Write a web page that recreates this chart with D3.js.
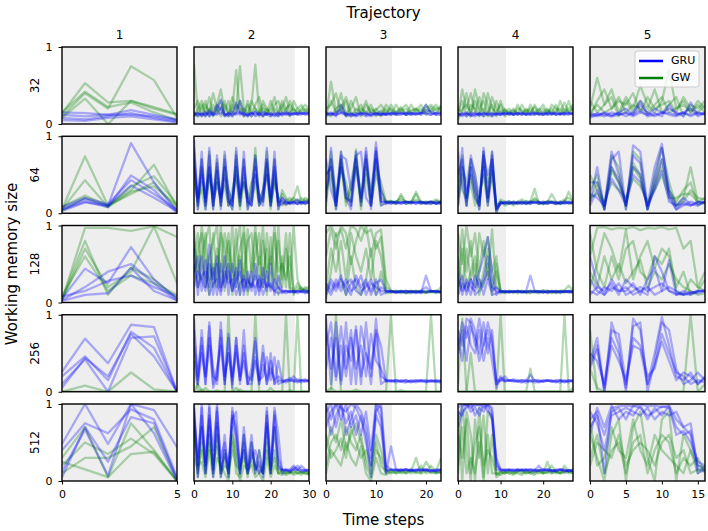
<!DOCTYPE html>
<html><head><meta charset="utf-8">
<script src="https://cdn.jsdelivr.net/npm/d3@7"></script>
<style>body{margin:0;background:#fff;} text{font-family:"DejaVu Sans",sans-serif;}</style>
</head><body><svg id="c" width="708" height="531"></svg>
<script>
const memorySizes = ["32","64","128","256","512"];
const trajectories = ["1","2","3","4","5"];
const xMax = [5,30,23,27,16];
const shadeEnd = [5,26.3,13.2,11.3,16];
const xTicks = [[0,5],[0,10,20,30],[0,10,20],[0,10,20],[0,5,10,15]];
const yTicks = [0,1];
const seriesNames = ["GRU","GW"];

// values in percent of working memory usage, one array per run
const GW_32 = [
 [[10,40,20,75,57,8],[14,53,28,30,20,12],[8,33,0,30,22,13],[15,42,22,28,15,5]],
 [[78,15,25,10,20,12,18,30,10,15,20,70,15,20,10,25,77,15,20,12,30,15,10,20,35,15,20,12,18,20,15],
  [20,30,10,25,15,40,20,10,25,15,35,20,75,20,15,30,20,10,25,15,20,35,15,30,20,10,30,20,15,18,20],
  [10,20,30,15,35,10,25,45,15,30,10,25,20,10,30,15,25,35,10,20,15,25,30,15,20,25,15,20,25,15,18],
  [15,10,20,30,10,25,15,20,30,10,25,15,30,15,25,10,20,15,30,20,10,20,15,25,15,30,20,15,20,25,20]],
 [[10,55,15,40,12,20,35,10,25,15,20,12,25,18,15,22,12,25,15,20,12,18,25,15],
  [20,25,40,15,30,10,20,15,30,12,18,25,15,20,12,18,25,15,20,12,25,15,20,22],
  [15,10,20,25,10,30,15,25,12,20,15,10,20,12,25,15,20,12,18,25,15,22,12,25],
  [12,30,15,20,35,15,12,20,15,25,10,18,12,25,15,20,12,18,20,15,20,25,18,20]],
 [[10,45,20,40,15,35,10,40,20,15,25,10,15,20,12,25,15,20,12,18,25,15,20,12,30,15,20,25],
  [20,15,40,10,45,20,30,15,25,10,30,15,20,12,25,15,18,12,25,15,20,12,25,20,15,28,15,20],
  [15,30,10,25,20,10,40,25,10,30,15,20,12,18,15,12,20,15,22,12,15,20,12,18,20,12,30,15],
  [5,20,25,15,30,15,20,10,35,20,12,18,15,12,20,18,12,25,15,20,12,18,15,25,12,20,15,22]],
 [[20,60,25,45,15,35,20,50,25,15,30,70,20,25,15,30,20],
  [10,30,45,20,30,25,40,15,35,20,25,30,15,35,20,15,25],
  [30,15,25,35,10,30,15,30,20,45,15,25,35,10,25,20,30],
  [15,25,15,20,35,15,25,20,15,25,35,15,20,30,15,25,15]]
];
const GRU_32 = [
 [[8,6,10,14,8,3],[12,10,12,12,10,5],[15,14,12,18,12,6],[5,4,8,10,6,2]],
 [[15,12,14,10,18,12,20,32,12,14,10,15,30,12,14,10,16,12,14,12,10,15,12,14,12,15,13,14,12,15,14],
  [12,15,10,14,12,16,25,18,12,10,14,28,12,15,10,14,12,15,10,14,12,10,14,12,16,12,14,13,15,12,13],
  [10,14,12,16,10,14,12,15,10,14,12,14,16,10,12,15,10,13,16,12,14,12,10,15,13,11,14,12,13,14,12],
  [14,10,13,12,15,11,14,22,13,12,16,12,14,13,11,14,15,12,11,14,13,12,15,11,14,13,12,15,14,13,15]],
 [[12,14,10,25,12,14,10,12,15,10,13,12,14,12,13,15,12,14,13,15,25,14,12,13],
  [14,12,15,18,10,12,14,13,10,12,14,15,12,14,13,12,14,15,12,14,13,12,15,14],
  [10,13,12,15,14,10,12,14,12,15,12,13,12,13,15,14,12,13,14,12,18,16,13,12],
  [13,15,12,14,12,13,11,15,13,12,14,12,13,15,12,13,15,12,13,14,15,12,14,15]],
 [[12,14,10,15,12,14,10,13,12,14,12,15,13,12,14,13,12,15,14,12,13,14,12,15,13,12,14,13],
  [14,10,13,12,15,11,14,12,10,13,15,12,14,13,12,14,13,12,13,14,12,13,15,12,14,13,12,15],
  [10,13,15,12,10,14,12,15,13,12,13,14,12,15,13,12,14,13,12,14,15,12,13,14,12,15,13,14],
  [13,12,14,10,13,12,15,12,14,13,12,13,15,12,14,15,12,13,15,13,12,15,14,12,13,14,15,12]],
 [[12,10,15,12,14,10,15,30,12,14,10,25,12,15,20,10,14],
  [10,14,12,10,15,20,12,25,15,10,14,20,15,10,28,12,15],
  [14,12,10,15,12,14,10,15,12,20,15,12,10,14,12,15,12],
  [8,12,14,10,12,15,12,18,10,12,15,14,12,15,10,14,13]]
];
const GW_64 = [
 [[5,74,10,30,63,8],[5,43,8,35,48,12],[8,23,10,25,40,5],[3,20,8,28,35,10]],
 [[60,10,70,15,80,5,60,10,75,20,5,80,10,70,5,30,85,10,20,80,15,70,5,30,20,15,20,35,15,20,18],
  [40,15,55,10,60,20,70,10,50,30,15,70,20,45,15,10,75,20,15,60,10,55,15,25,15,20,15,12,20,15,18],
  [80,5,40,20,50,10,45,25,60,10,30,55,5,50,20,40,50,15,30,70,10,40,20,15,10,15,20,15,12,18,15],
  [50,20,30,5,55,15,40,20,35,10,20,45,10,40,25,15,40,10,20,50,5,45,15,10,18,12,15,18,15,12,15]],
 [[20,70,10,80,20,15,83,10,70,15,80,20,15,15,12,25,14,15,25,12,15,14,18,15],
  [50,60,5,60,40,10,70,20,50,10,60,40,15,14,15,18,15,12,28,15,13,15,12,16],
  [10,80,20,70,10,40,75,5,60,30,70,10,15,16,14,22,12,15,18,14,15,12,16,14],
  [30,50,10,65,15,30,60,15,75,10,50,30,15,13,15,14,15,14,15,14,13,15,14,13]],
 [[40,75,10,60,20,10,80,15,70,0,18,15,12,15,14,15,12,15,32,12,15,14,25,15,12,14,28,15],
  [20,60,40,70,50,5,75,40,60,10,15,12,15,10,15,18,15,12,20,15,12,15,14,12,15,18,20,15],
  [60,30,20,50,30,15,60,20,50,5,12,14,16,12,14,12,16,15,18,14,12,16,15,14,12,16,15,12],
  [10,50,15,40,10,20,50,10,80,5,15,10,12,15,12,14,12,14,15,12,14,12,15,14,13,15,12,14]],
 [[30,50,5,75,60,5,80,70,5,50,85,40,10,20,60,15,20],
  [15,40,10,60,45,10,65,50,5,40,70,30,15,30,40,10,15],
  [50,30,5,55,40,10,60,45,10,35,60,25,10,15,30,20,18],
  [20,25,15,40,30,20,45,35,15,30,50,20,20,25,25,15,12]]
];
const GRU_64 = [
 [[5,18,10,91,40,2],[5,15,8,49,30,0],[8,20,12,43,25,5],[3,14,10,36,20,3]],
 [[95,5,80,10,85,5,75,10,80,20,5,85,10,80,5,20,75,10,25,85,10,80,5,20,15,12,15,18,12,15,16],
  [70,10,60,15,75,10,65,5,70,30,10,75,20,70,10,30,70,15,10,65,15,70,10,20,12,15,14,12,15,13,15],
  [85,15,50,20,60,10,40,15,60,10,20,50,15,60,20,10,50,25,15,70,10,50,15,15,12,14,12,15,14,12,14],
  [60,20,70,5,50,25,55,20,45,15,10,60,25,40,15,10,60,15,30,50,20,60,10,12,15,13,15,12,14,15,13]],
 [[15,85,10,80,20,15,80,10,85,20,92,15,15,14,12,14,15,13,14,15,12,14,13,14],
  [70,30,10,75,70,30,75,80,20,10,80,30,12,15,13,15,12,14,15,12,14,15,12,15],
  [30,70,15,60,30,10,70,20,80,5,85,15,14,12,15,13,14,15,12,14,13,12,15,14],
  [50,60,5,70,20,5,60,15,70,10,70,10,13,15,14,12,15,14,13,15,14,15,13,12]],
 [[20,85,10,70,30,5,85,20,80,0,15,12,14,12,15,14,13,15,14,12,14,15,13,12,14,15,13,14],
  [50,70,20,60,40,10,75,50,70,5,12,15,13,14,12,15,14,12,15,14,13,14,15,12,14,12,15,13],
  [80,40,10,75,50,20,60,15,75,10,14,13,15,13,14,12,15,13,14,15,12,13,14,15,12,14,13,15],
  [10,60,30,50,20,10,80,10,55,5,13,14,12,15,13,14,12,15,13,14,15,12,14,13,15,13,14,12]],
 [[15,60,5,70,80,5,88,80,10,60,90,20,5,15,10,15,14],
  [40,40,10,80,50,10,75,65,5,45,85,30,10,20,12,10,15],
  [10,30,5,60,40,15,60,50,5,35,70,25,5,10,15,12,14],
  [25,20,10,45,30,10,50,40,10,30,55,15,10,12,10,14,15]]
];
const GW_128 = [
 [[3,97,97,93,99,85],[5,80,10,45,30,5],[3,70,20,40,99,25],[8,60,15,35,25,10]],
 [[95,20,100,60,10,90,30,100,15,80,40,95,10,100,30,20,90,50,100,10,85,30,100,20,70,15,100,30,15,20,15],
  [60,90,30,80,100,20,70,40,90,60,10,70,100,20,80,90,30,60,20,90,50,100,10,60,20,90,10,20,15,18,20],
  [30,70,90,20,60,80,100,20,50,90,30,40,70,90,10,50,100,20,80,40,60,20,80,30,90,20,15,25,18,15,12],
  [80,40,60,90,30,50,20,90,70,30,100,20,60,30,95,40,60,90,30,70,20,90,40,50,30,60,12,15,20,14,16]],
 [[90,100,85,95,70,100,95,80,100,60,90,95,30,15,14,15,12,15,14,15,13,15,14,20],
  [60,95,70,100,90,50,80,100,90,95,70,85,20,15,13,14,15,13,15,14,15,14,12,15],
  [20,70,40,80,30,90,60,40,70,30,80,60,15,14,15,12,14,15,13,14,12,15,14,13],
  [5,40,90,30,10,60,20,10,30,70,10,40,12,13,14,15,13,12,15,13,14,13,15,14]],
 [[90,50,100,60,90,40,80,30,95,20,15,14,15,13,15,14,12,15,14,15,13,15,14,12,15,16,22,15],
  [30,95,40,80,20,90,60,85,40,60,15,13,14,15,12,14,15,13,15,14,16,15,13,14,15,13,14,12],
  [60,20,70,30,50,10,40,70,20,50,12,15,13,14,15,13,14,15,13,12,14,13,15,14,12,15,14,15],
  [10,70,20,40,60,30,20,50,10,40,14,12,15,13,14,15,13,12,14,15,13,14,12,15,14,13,15,13]],
 [[60,97,98,95,97,96,98,94,97,96,98,95,97,70,80,20,40],
  [20,50,90,70,40,95,30,60,80,45,70,60,20,40,10,15,30],
  [90,40,20,60,30,70,80,40,30,60,50,70,15,10,30,20,15],
  [40,20,60,30,50,25,40,55,20,40,30,50,30,20,15,10,12]]
];
const GRU_128 = [
 [[5,44,25,72,30,5],[3,20,40,50,25,2],[8,15,28,35,20,8],[2,10,12,45,15,3]],
 [[70,10,60,20,75,10,50,15,60,10,50,20,55,10,40,15,50,10,45,15,50,10,35,15,15,14,15,12,15,16,14],
  [40,60,15,55,20,45,10,50,20,40,15,45,10,35,20,40,10,35,20,40,15,30,20,12,15,14,13,15,14,13,15],
  [20,40,30,15,50,30,60,20,30,50,15,30,40,15,30,20,35,15,30,20,25,15,20,15,12,15,14,15,13,15,14],
  [50,20,35,40,10,25,30,10,40,25,30,10,25,30,15,25,20,30,10,25,20,15,12,14,15,13,15,14,15,12,13]],
 [[15,30,20,35,10,25,30,15,20,30,10,20,15,14,13,15,14,13,15,12,35,15,14,13],
  [25,15,30,20,30,15,20,35,10,25,20,15,14,15,12,14,15,14,12,15,20,14,15,14],
  [10,25,15,30,20,10,35,20,30,10,25,30,15,13,15,14,12,15,14,13,14,15,13,15],
  [20,10,25,15,25,30,15,10,25,15,30,10,13,15,14,13,15,14,13,15,13,14,15,13]],
 [[20,35,10,30,20,40,60,85,40,10,15,14,13,15,14,13,15,35,15,14,13,15,14,13,15,14,13,14],
  [30,15,25,10,35,20,30,60,20,15,13,15,14,13,15,14,13,15,14,13,15,12,14,15,13,14,15,13],
  [10,25,15,30,10,15,25,40,15,20,14,13,15,14,13,15,14,13,15,14,13,14,15,13,14,15,13,15],
  [40,10,30,20,15,30,10,30,10,12,15,14,13,14,15,13,14,15,13,14,15,13,14,15,13,14,15,14]],
 [[10,20,15,25,10,30,20,15,10,60,40,15,10,15,12,15,15],
  [30,15,10,20,15,15,25,10,30,45,15,55,10,12,10,14,16],
  [15,10,20,15,25,10,15,20,15,20,25,15,12,10,14,12,15],
  [60,25,10,30,15,20,10,15,20,10,15,20,15,10,12,15,14]]
];
const GW_256 = [
 [[0,8,0,25,3,0],[0,0,0,0,0,0]],
 [[50,0,0,5,0,0,2,0,0,100,0,0,3,0,0,0,100,0,0,0,5,0,0,0,100,0,0,0,0,0,0],
  [0,0,3,0,0,0,0,0,0,0,0,5,0,0,0,0,0,0,0,0,0,0,0,0,0,2,0,100,0,0,0],
  [0,10,0,0,0,0,0,0,0,0,0,0,0,0,0,0,0,0,0,0,0,0,0,0,0,0,0,0,0,0,0]],
 [[0,0,100,0,0,0,0,0,0,0,0,0,0,100,0,0,0,0,0,0,0,0,0,0],
  [0,0,0,0,0,0,0,0,0,0,0,0,0,0,0,0,0,0,0,0,0,100,0,0],
  [0,5,0,0,0,0,3,0,0,0,0,0,0,0,0,2,0,0,0,0,0,0,0,0]],
 [[10,95,0,0,0,0,0,0,0,0,100,0,0,0,0,0,0,30,0,0,0,0,0,0,0,100,0,0],
  [0,0,0,50,0,0,0,0,0,0,0,0,0,0,0,0,0,0,0,0,0,0,0,0,0,0,0,5],
  [0,0,0,0,0,0,0,0,0,0,0,0,0,0,0,0,0,0,0,0,0,0,0,0,0,0,0,0]],
 [[80,0,0,0,0,0,0,0,0,0,0,0,0,0,100,0,0],
  [30,5,0,0,0,0,0,0,0,0,0,0,0,0,0,0,10]]
];
const GRU_256 = [
 [[26,69,37,87,84,0],[20,46,15,78,57,0],[10,42,0,70,72,0],[5,44,20,75,46,0]],
 [[95,10,80,20,90,5,20,80,10,75,5,70,15,80,10,30,70,10,60,10,50,10,40,15,15,15,20,14,15,16,14],
  [60,20,70,10,85,20,15,90,20,50,15,70,10,60,20,15,65,15,20,45,15,45,10,12,15,18,14,12,15,14,15],
  [80,15,60,10,70,30,10,70,15,50,10,60,20,50,10,10,40,15,50,10,30,15,20,14,12,14,15,16,15,13,14],
  [40,10,50,20,60,10,30,60,10,70,20,50,15,40,10,20,45,10,35,15,40,10,15,13,14,15,13,14,12,15,13]],
 [[95,10,90,15,90,10,80,10,90,20,95,20,15,14,15,13,15,12,14,15,13,14,15,13],
  [60,90,20,85,30,80,10,85,50,30,75,10,15,13,14,15,13,14,12,15,14,13,14,15],
  [80,30,70,10,60,40,85,20,50,10,80,60,14,15,12,14,15,13,15,14,12,15,13,14],
  [30,70,15,60,20,70,30,60,20,75,40,30,13,14,15,13,12,15,14,13,15,14,13,12]],
 [[80,60,95,90,60,95,60,90,70,10,15,20,14,15,13,15,14,13,15,14,13,15,14,12,15,13,14,15],
  [60,90,70,95,80,50,90,50,80,10,20,14,15,13,14,15,14,22,15,12,14,15,13,14,15,14,12,15],
  [50,80,40,85,70,40,60,80,60,15,14,15,14,16,15,13,12,15,14,15,13,14,15,13,12,15,14,14],
  [70,40,85,60,50,80,40,70,40,5,18,13,15,14,13,12,15,14,12,13,15,14,13,15,14,12,15,13]],
 [[40,70,0,90,60,0,95,80,10,50,97,60,20,15,25,10,20],
  [30,55,5,80,75,10,85,90,0,40,90,80,30,10,15,25,15],
  [50,40,10,70,50,5,70,60,20,30,75,50,25,20,10,15,12],
  [35,60,0,60,40,15,60,55,10,35,65,40,15,25,20,10,18]]
];
const GW_512 = [
 [[30,70,5,75,40,0],[20,50,35,55,35,0],[10,30,30,45,70,2],[25,15,5,35,38,0]],
 [[80,10,70,15,60,10,75,5,30,10,70,10,5,60,10,50,10,40,10,70,10,70,20,10,12,10,15,10,12,10,8],
  [60,5,50,20,70,15,60,10,40,5,60,40,10,40,5,35,20,10,15,50,10,40,10,15,10,12,10,14,10,12,10],
  [30,15,40,10,50,20,45,10,20,15,40,20,15,30,10,25,15,20,10,40,15,30,10,12,8,10,12,10,8,12,10],
  [70,20,25,5,40,5,30,20,10,0,50,30,0,20,15,20,5,10,0,30,5,20,10,8,10,12,8,10,12,9,10]],
 [[40,70,50,80,40,60,75,50,30,10,60,40,15,10,12,15,10,12,30,10,25,15,10,12],
  [20,50,60,40,70,50,40,60,20,5,40,30,10,12,15,10,12,14,10,12,15,10,12,30],
  [60,30,40,55,30,70,50,30,40,20,50,20,12,15,10,12,10,15,12,20,10,12,10,15],
  [10,40,30,20,50,30,20,45,10,0,30,10,8,12,10,12,15,10,12,10,12,20,12,10]],
 [[90,0,90,60,0,95,5,90,80,10,12,10,14,10,12,15,10,12,10,14,10,12,20,12,10,14,12,10],
  [20,100,40,0,80,30,85,10,60,5,10,12,10,8,12,10,14,10,12,15,10,25,10,12,10,20,12,14],
  [60,30,80,10,50,70,20,40,30,8,12,10,12,10,14,12,10,12,14,10,12,10,14,10,12,10,15,10],
  [10,70,10,30,10,50,0,60,10,10,8,12,10,12,10,8,12,10,8,12,10,12,10,14,10,12,10,12]],
 [[60,30,0,60,80,0,70,90,30,0,80,90,0,60,40,10,20],
  [30,60,10,40,50,10,50,60,10,40,60,50,10,30,20,30,10],
  [80,20,30,70,40,30,80,40,20,60,40,30,20,10,40,20,15],
  [20,50,40,30,60,20,40,50,40,20,50,60,30,40,10,15,12]]
];
const GRU_512 = [
 [[48,100,48,100,92,44],[40,75,62,93,80,5],[12,67,7,100,62,0],[5,70,25,83,75,2]],
 [[100,5,100,10,95,5,100,10,60,5,95,50,10,70,20,60,10,40,5,95,10,95,60,10,15,12,15,14,20,15,14],
  [90,10,95,20,100,15,90,30,50,10,90,70,15,50,10,40,20,10,20,90,20,90,30,15,14,15,20,15,12,14,13],
  [80,30,85,10,85,40,95,5,40,20,80,90,10,60,15,30,40,15,10,85,10,85,20,14,15,12,18,15,14,13,15],
  [95,20,70,25,80,10,70,15,35,10,85,60,20,40,10,50,15,25,10,75,15,70,15,15,13,14,15,20,15,14,12]],
 [[100,80,100,95,90,100,95,80,60,5,100,95,10,45,15,14,15,13,15,14,15,12,14,15],
  [90,100,70,100,60,80,100,90,70,30,90,100,20,15,14,15,13,15,14,13,15,14,13,12],
  [70,90,100,80,100,70,85,60,90,40,100,80,15,14,15,13,15,14,13,15,14,13,15,14],
  [95,60,85,100,75,90,60,85,50,20,85,70,12,15,13,14,15,13,14,15,13,14,13,15]],
 [[95,100,98,100,97,100,95,100,90,20,15,14,15,13,15,14,13,15,14,20,13,15,14,12,15,14,13,15],
  [80,97,100,95,100,98,100,97,80,25,13,15,14,13,15,14,15,12,14,13,15,14,12,15,14,15,12,14],
  [70,90,95,100,85,95,90,100,95,15,14,13,15,14,13,15,14,15,12,14,15,13,14,13,15,12,14,13],
  [90,85,100,90,95,85,100,90,85,30,15,14,13,15,14,13,15,14,15,13,14,15,13,14,15,13,14,13]],
 [[80,90,10,95,97,98,97,100,97,98,96,98,80,70,75,15,15],
  [70,85,60,90,95,80,98,95,85,90,97,95,70,60,65,20,18],
  [90,75,40,85,90,95,90,85,95,80,90,85,90,70,60,10,15],
  [60,95,70,98,80,90,85,98,80,95,85,97,60,65,50,25,20]]
];

const gwRows = [GW_32, GW_64, GW_128, GW_256, GW_512];
const gruRows = [GRU_32, GRU_64, GRU_128, GRU_256, GRU_512];

const svg = d3.select("#c");
svg.append("rect").attr("width",708).attr("height",531).attr("fill","#fff");
const L = 62, R = 705, T = 47, B = 481, gapX = 17, gapY = 12.25;
const pw = (R - L - 4*gapX)/5, ph = (B - T - 4*gapY)/5;
const colorGRU = "#0000ff", colorGW = "#008000";
const defs = svg.append("defs");

for (let r = 0; r < 5; r++) {
  for (let c = 0; c < 5; c++) {
    const x0 = L + c*(pw + gapX), y0 = T + r*(ph + gapY);
    const xs = d3.scaleLinear().domain([0, xMax[c]]).range([x0, x0 + pw]);
    const ys = d3.scaleLinear().domain([0, 1]).range([y0 + ph, y0]);
    const id = "clip" + r + "_" + c;
    defs.append("clipPath").attr("id", id).append("rect")
      .attr("x", x0).attr("y", y0).attr("width", pw).attr("height", ph);
    const g = svg.append("g");
    const inner = g.append("g").attr("clip-path", "url(#" + id + ")");
    inner.append("rect").attr("x", xs(0)).attr("y", y0)
      .attr("width", xs(shadeEnd[c]) - xs(0)).attr("height", ph).attr("fill", "#eeeeee");
    const mk = arr => d3.line()
      .x((d, i) => xs(i * xMax[c] / (arr.length - 1)))
      .y(d => ys(d / 100))(arr);
    const draw = (runs, col) => runs.forEach(run => {
      inner.append("path").attr("d", mk(run)).attr("fill", "none")
        .attr("stroke", col).attr("stroke-opacity", 0.3).attr("stroke-width", 2.3)
        .attr("stroke-linejoin", "round");
    });
    draw(gwRows[r][c], colorGW);
    draw(gruRows[r][c], colorGRU);
    g.append("rect").attr("x", x0).attr("y", y0).attr("width", pw).attr("height", ph)
      .attr("fill", "none").attr("stroke", "#000").attr("stroke-width", 1.4);

    if (c === 0) {
      const ax = g.append("g").attr("transform", `translate(${x0},0)`)
        .call(d3.axisLeft(ys).tickValues(yTicks).tickSize(3.5).tickPadding(6).tickFormat(d3.format("d")));
      ax.select(".domain").remove();
      ax.selectAll("text").attr("font-size", 11).attr("font-family", "DejaVu Sans").attr("fill", "#000");
      g.append("text").attr("transform", `translate(${x0 - 27},${y0 + ph/2}) rotate(-90)`)
        .attr("text-anchor", "middle").attr("dominant-baseline", "middle")
        .attr("font-size", 12).text(memorySizes[r]);
    }
    if (r === 4) {
      const ax = g.append("g").attr("transform", `translate(0,${y0 + ph})`)
        .call(d3.axisBottom(xs).tickValues(xTicks[c]).tickSize(3.5).tickPadding(6).tickFormat(d3.format("d")));
      ax.select(".domain").remove();
      ax.selectAll("text").attr("font-size", 11).attr("font-family", "DejaVu Sans").attr("fill", "#000");
    }
    if (r === 0) {
      g.append("text").attr("x", x0 + pw/2).attr("y", y0 - 8).attr("text-anchor", "middle")
        .attr("font-size", 12).text(trajectories[c]);
    }
    if (r === 0 && c === 4) {
      const lg = g.append("g");
      lg.append("rect").attr("x", x0 + 45).attr("y", y0 + 4).attr("width", 64).attr("height", 36)
        .attr("rx", 2.5).attr("fill", "#fff").attr("fill-opacity", 0.8).attr("stroke", "#cccccc");
      [[colorGRU, seriesNames[0]], [colorGW, seriesNames[1]]].forEach((e, i) => {
        const yy = y0 + 14 + i*17;
        lg.append("line").attr("x1", x0 + 49).attr("x2", x0 + 73).attr("y1", yy).attr("y2", yy)
          .attr("stroke", e[0]).attr("stroke-width", 2.5);
        lg.append("text").attr("x", x0 + 81).attr("y", yy).attr("dominant-baseline", "middle")
          .attr("font-size", 11).text(e[1]);
      });
    }
  }
}
svg.append("text").attr("x", (L + R)/2).attr("y", 18).attr("text-anchor", "middle")
  .attr("font-size", 15).text("Trajectory");
svg.append("text").attr("x", (L + R)/2).attr("y", 525).attr("text-anchor", "middle")
  .attr("font-size", 15).text("Time steps");
svg.append("text").attr("transform", `translate(17,${(T + B)/2}) rotate(-90)`)
  .attr("text-anchor", "middle").attr("font-size", 15).text("Working memory size");
</script>
</body></html>
